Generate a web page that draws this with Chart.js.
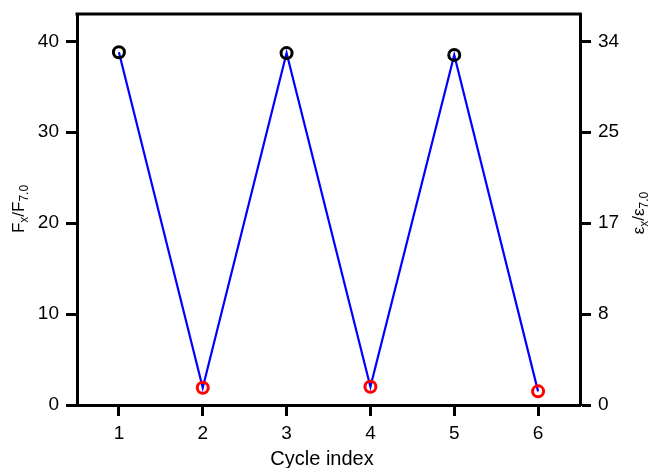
<!DOCTYPE html>
<html><head><meta charset="utf-8">
<script src="https://cdn.jsdelivr.net/npm/chart.js@4/dist/chart.umd.min.js"></script>
<style>html,body{margin:0;padding:0;background:#fff;overflow:hidden}</style>
</head><body>
<canvas id="c" width="655" height="468"></canvas>
<script>
// ---- data ----
const cycleIndex = [1, 2, 3, 4, 5, 6];
const forceRatio = [38.8, 1.9, 38.7, 2.0, 38.5, 1.5];
const pointState = ['high', 'low', 'high', 'low', 'high', 'low'];
const leftTickValues = [0, 10, 20, 30, 40];
const rightTickValues = [0, 8.5, 17, 25.5, 34];
const rightTickLabels = ['0', '8', '17', '25', '34'];
const strainPerForce = 0.85;
const xTitle = 'Cycle index';
const leftTitleParts = [['F', 0], ['x', 1], ['/F', 0], ['7.0', 1]];
const rightTitleParts = [['ε', 0], ['x', 1], ['/ε', 0], ['7.0', 1]];

const FONT = '"Liberation Sans", Arial, Helvetica, sans-serif';
const yMax = 43;

const highPts = cycleIndex.map((x, i) => ({x, y: forceRatio[i]})).filter((p, i) => pointState[i] === 'high');
const lowPts = cycleIndex.map((x, i) => ({x, y: forceRatio[i]})).filter((p, i) => pointState[i] === 'low');
const linePts = cycleIndex.map((x, i) => ({x, y: forceRatio[i]}));

function drawParts(ctx, parts, cx, cy, size, subSize, subShift, rotate) {
  ctx.save();
  ctx.translate(cx, cy);
  if (rotate) ctx.rotate(-Math.PI / 2);
  let total = 0;
  const widths = parts.map(([t, s]) => {
    ctx.font = (s ? subSize : size) + 'px ' + FONT;
    const w = ctx.measureText(t).width; total += w; return w;
  });
  let x = -total / 2;
  ctx.fillStyle = '#000';
  ctx.textBaseline = 'alphabetic';
  ctx.textAlign = 'left';
  parts.forEach(([t, s], i) => {
    ctx.font = (s ? subSize : size) + 'px ' + FONT;
    ctx.fillText(t, x, s ? subShift : 0);
    x += widths[i];
  });
  ctx.restore();
}

const decor = {
  id: 'decor',
  afterDraw(chart) {
    const ctx = chart.ctx, a = chart.chartArea;
    ctx.save();
    ctx.strokeStyle = '#000';
    ctx.lineWidth = 3;
    ctx.beginPath();
    ctx.moveTo(a.left - 1.5, a.top);
    ctx.lineTo(a.right + 1.5, a.top);
    ctx.stroke();
    ctx.restore();
    drawParts(ctx, leftTitleParts, 24, 209, 17, 12, 4, true);
    drawParts(ctx, rightTitleParts, 644, 213, 17, 12, 4, true);
    drawParts(ctx, [[xTitle, 0]], 322, 465, 20, 20, 0, false);
  }
};

const axisCommon = {
  grid: {drawOnChartArea: false, drawTicks: true, tickLength: 11, tickWidth: 3, tickColor: '#000'},
  border: {display: true, width: 3, color: '#000'},
  ticks: {color: '#000', font: {family: FONT, size: 19}}
};

function noPad(s) { s.paddingTop = 0; s.paddingBottom = 0; s.paddingLeft = 0; s.paddingRight = 0; }

new Chart(document.getElementById('c'), {
  type: 'scatter',
  data: {
    datasets: [
      {label: 'high', data: highPts, yAxisID: 'y', order: 0, pointRadius: 5.5, pointBorderWidth: 3,
       pointBorderColor: '#000', pointBackgroundColor: 'rgba(0,0,0,0)', showLine: false},
      {label: 'low', data: lowPts, yAxisID: 'y', order: 0, pointRadius: 5.5, pointBorderWidth: 3,
       pointBorderColor: '#ff0000', pointBackgroundColor: 'rgba(0,0,0,0)', showLine: false},
      {label: 'line', data: linePts, yAxisID: 'y', order: 1, showLine: true, borderColor: '#0000ff',
       borderWidth: 2.2, pointRadius: 0, tension: 0, fill: false}
    ]
  },
  options: {
    responsive: false,
    animation: false,
    devicePixelRatio: 1,
    layout: {padding: {top: 14, left: 0, right: 0, bottom: 0}},
    plugins: {legend: {display: false}, tooltip: {enabled: false}},
    scales: {
      x: {
        type: 'linear', position: 'bottom', min: 0.5, max: 6.5,
        ...axisCommon,
        ticks: {...axisCommon.ticks, padding: 6},
        afterBuildTicks: s => { s.ticks = cycleIndex.map(v => ({value: v})); },
        afterFit: s => { s.height = 63; noPad(s); }
      },
      y: {
        type: 'linear', position: 'left', min: 0, max: yMax,
        ...axisCommon,
        ticks: {...axisCommon.ticks, padding: 7},
        afterBuildTicks: s => { s.ticks = leftTickValues.map(v => ({value: v})); },
        afterFit: s => { s.width = 77; noPad(s); }
      },
      y2: {
        type: 'linear', position: 'right', min: 0, max: yMax * strainPerForce,
        ...axisCommon,
        ticks: {...axisCommon.ticks, padding: 7, callback: (v, i) => rightTickLabels[i]},
        afterBuildTicks: s => { s.ticks = rightTickValues.map(v => ({value: v})); },
        afterFit: s => { s.width = 75; noPad(s); }
      }
    }
  },
  plugins: [decor]
});
</script>
</body></html>
